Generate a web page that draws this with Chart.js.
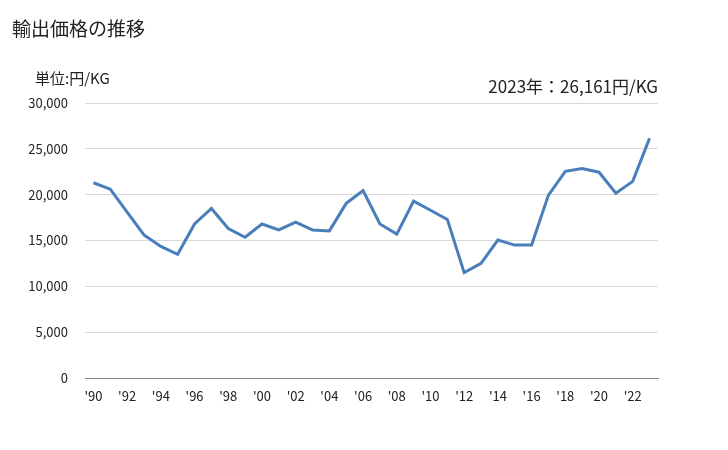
<!DOCTYPE html>
<html>
<head>
<meta charset="utf-8">
<script src="https://cdn.jsdelivr.net/npm/chart.js@4"></script>
<style>
  body { margin: 0; background: #fff; font-family: "Noto Sans CJK JP", sans-serif; }
  #wrap { position: relative; width: 728px; height: 450px; }
  #chart { position: absolute; left: 0; top: 0; }
  .txt { position: absolute; color: #222; white-space: nowrap; line-height: 1; }
  #title { left: 12px; top: 18px; font-size: 19px; }
  #unit { left: 35px; top: 70px; font-size: 15px; }
  #note { right: 70px; top: 77px; font-size: 17px; }
</style>
</head>
<body>
<div id="wrap">
  <canvas id="chart" width="728" height="450"></canvas>
  <div class="txt" id="title">輸出価格の推移</div>
  <div class="txt" id="unit">単位:円/KG</div>
  <div class="txt" id="note">2023年：26,161円/KG</div>
</div>
<script>
const years = ["'90","'91","'92","'93","'94","'95","'96","'97","'98","'99",
  "'00","'01","'02","'03","'04","'05","'06","'07","'08","'09",
  "'10","'11","'12","'13","'14","'15","'16","'17","'18","'19",
  "'20","'21","'22","'23"];
const prices = [21300, 20600, 18100, 15600, 14350, 13500, 16800, 18500, 16300, 15350,
  16800, 16150, 17000, 16150, 16050, 19050, 20450, 16800, 15700, 19300,
  18300, 17300, 11500, 12500, 15050, 14500, 14500, 19950, 22550, 22850,
  22450, 20150, 21450, 26161];
const yTicks = [0, 5000, 10000, 15000, 20000, 25000, 30000];

const ctx = document.getElementById('chart').getContext('2d');
new Chart(ctx, {
  type: 'line',
  data: {
    labels: years,
    datasets: [{
      data: prices,
      borderColor: '#4a7ebb',
      borderWidth: 3,
      pointRadius: 0,
      tension: 0,
      fill: false
    }]
  },
  options: {
    responsive: false,
    animation: false,
    layout: { padding: { left: 0, right: 70, top: 103, bottom: 0 } },
    plugins: { legend: { display: false }, tooltip: { enabled: false } },
    scales: {
      x: {
        offset: true,
        grid: { display: false, drawTicks: false },
        border: { display: true, color: '#888888', width: 1 },
        ticks: {
          autoSkip: false,
          maxRotation: 0,
          padding: 10,
          color: '#222',
          font: { family: '"Noto Sans CJK JP", sans-serif', size: 13 },
          callback: (v, i) => (i % 2 === 0 ? years[i] : '')
        },
        afterFit: (scale) => { scale.height = 72; }
      },
      y: {
        min: 0,
        max: 30000,
        afterBuildTicks: (scale) => { scale.ticks = yTicks.map(v => ({ value: v })); },
        grid: { color: '#d9d9d9', drawTicks: false },
        border: { display: false },
        ticks: {
          padding: 17,
          color: '#222',
          font: { family: '"Noto Sans CJK JP", sans-serif', size: 13 },
          callback: (v) => v.toLocaleString('en-US')
        },
        afterFit: (scale) => { scale.width = 85; }
      }
    }
  }
});
</script>
</body>
</html>
